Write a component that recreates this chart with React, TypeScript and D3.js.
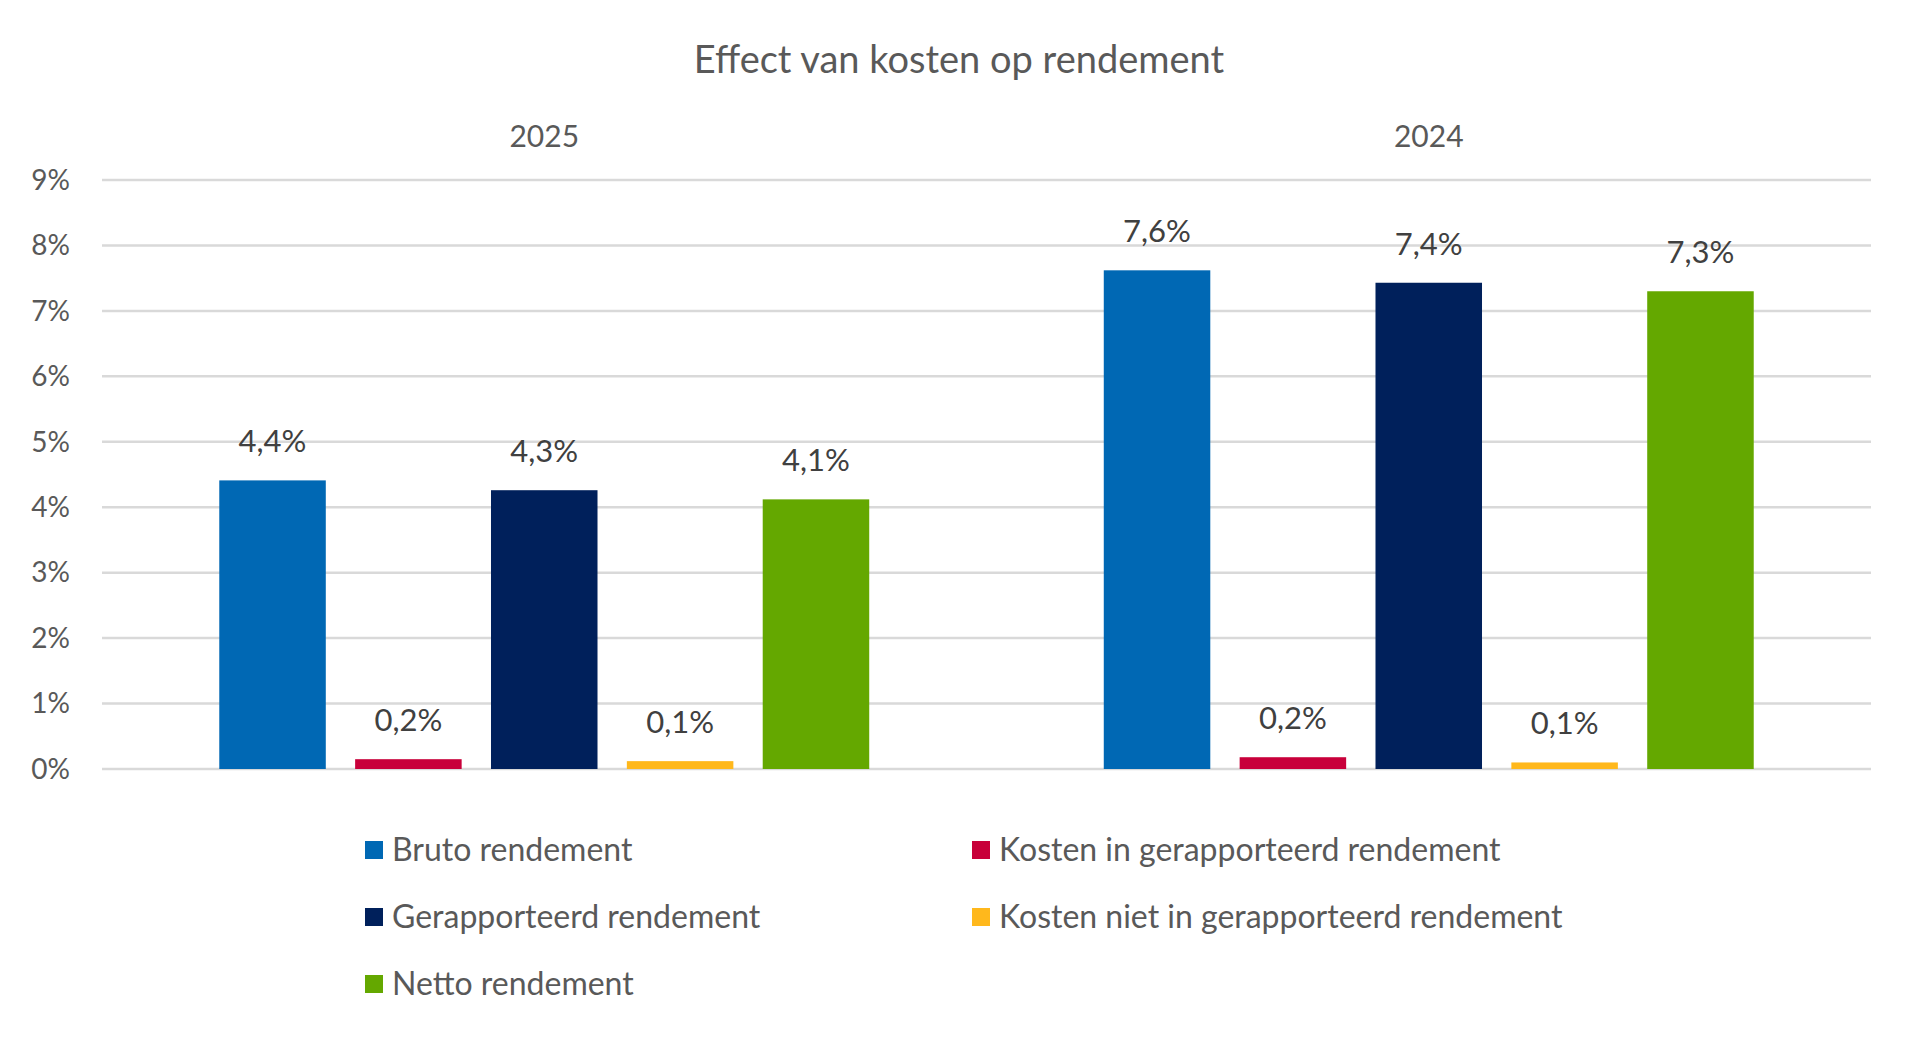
import React, { useEffect, useRef } from "react";
import * as d3 from "d3";

const categories = ["2025", "2024"];
const seriesNames = [
  "Bruto rendement",
  "Kosten in gerapporteerd rendement",
  "Gerapporteerd rendement",
  "Kosten niet in gerapporteerd rendement",
  "Netto rendement",
];
const seriesColors = ["#0068B4", "#C8003A", "#00205B", "#FFB81C", "#64A800"];
// values in %, one array per series, in category order
const bruto = [4.41, 7.62];
const kostenIn = [0.15, 0.18];
const gerapporteerd = [4.26, 7.43];
const kostenNiet = [0.12, 0.1];
const netto = [4.12, 7.3];
const yTicks = [0, 1, 2, 3, 4, 5, 6, 7, 8, 9];

const FONT = "Lato, 'Open Sans', sans-serif";

export default function App() {
  const ref = useRef<SVGSVGElement>(null);

  useEffect(() => {
    const width = 1920;
    const height = 1039;
    const marginLeft = 102;
    const marginRight = 49;
    const marginTop = 180;
    const plotBottom = 769;

    const values = [bruto, kostenIn, gerapporteerd, kostenNiet, netto];

    const svg = d3.select(ref.current);
    svg.selectAll("*").remove();
    svg
      .attr("width", width)
      .attr("height", height)
      .attr("viewBox", [0, 0, width, height]);

    svg.append("rect").attr("width", width).attr("height", height).attr("fill", "#fff");

    const x0 = d3
      .scaleBand<string>()
      .domain(categories)
      .range([marginLeft, width - marginRight])
      .paddingInner(0.232)
      .paddingOuter(0.116);

    const x1 = d3
      .scaleBand<string>()
      .domain(seriesNames)
      .range([0, x0.bandwidth()])
      .paddingInner(0.216)
      .paddingOuter(0.108);

    const y = d3.scaleLinear().domain([0, 9]).range([plotBottom, marginTop]);

    // title
    svg
      .append("text")
      .attr("x", 959)
      .attr("y", 73)
      .attr("text-anchor", "middle")
      .attr("font-family", FONT)
      .attr("font-size", 38)
      .attr("fill", "#595959")
      .text("Effect van kosten op rendement");

    // gridlines + y labels
    const yAxis = svg.append("g");
    yAxis
      .selectAll("line")
      .data(yTicks)
      .join("line")
      .attr("x1", marginLeft)
      .attr("x2", width - marginRight)
      .attr("y1", (d) => y(d))
      .attr("y2", (d) => y(d))
      .attr("stroke", "#D9D9D9")
      .attr("stroke-width", 2.5);
    yAxis
      .selectAll("text")
      .data(yTicks)
      .join("text")
      .attr("x", 70)
      .attr("y", (d) => y(d))
      .attr("dy", "0.35em")
      .attr("text-anchor", "end")
      .attr("font-family", FONT)
      .attr("font-size", 28)
      .attr("fill", "#595959")
      .text((d) => `${d}%`);

    // category labels on top
    svg
      .append("g")
      .selectAll("text")
      .data(categories)
      .join("text")
      .attr("x", (d) => x0(d)! + x0.bandwidth() / 2)
      .attr("y", 147)
      .attr("text-anchor", "middle")
      .attr("font-family", FONT)
      .attr("font-size", 30)
      .attr("fill", "#595959")
      .text((d) => d);

    const fmt = (v: number) => (Math.round(v * 10) / 10).toFixed(1).replace(".", ",") + "%";

    // bars
    const groups = svg
      .append("g")
      .selectAll("g")
      .data(categories)
      .join("g")
      .attr("transform", (d) => `translate(${x0(d)},0)`);

    groups
      .selectAll("rect")
      .data((c, ci) => seriesNames.map((s, si) => ({ s, si, v: values[si][ci] })))
      .join("rect")
      .attr("x", (d) => x1(d.s)!)
      .attr("width", x1.bandwidth())
      .attr("y", (d) => y(d.v))
      .attr("height", (d) => y(0) - y(d.v))
      .attr("fill", (d) => seriesColors[d.si]);

    groups
      .selectAll("text")
      .data((c, ci) => seriesNames.map((s, si) => ({ s, si, v: values[si][ci] })))
      .join("text")
      .attr("x", (d) => x1(d.s)! + x1.bandwidth() / 2)
      .attr("y", (d) => y(d.v) - 28)
      .attr("text-anchor", "middle")
      .attr("font-family", FONT)
      .attr("font-size", 31)
      .attr("fill", "#404040")
      .text((d) => fmt(d.v));

    // legend, two columns
    const legendCols = [365, 972];
    const legendRows = [850, 917, 984];
    const legend = svg
      .append("g")
      .selectAll("g")
      .data(seriesNames)
      .join("g")
      .attr(
        "transform",
        (d, i) => `translate(${legendCols[i % 2]},${legendRows[Math.floor(i / 2)]})`
      );
    legend
      .append("rect")
      .attr("x", 0)
      .attr("y", -9)
      .attr("width", 18)
      .attr("height", 18)
      .attr("fill", (d, i) => seriesColors[i]);
    legend
      .append("text")
      .attr("x", 27)
      .attr("y", 0)
      .attr("dy", "0.35em")
      .attr("font-family", FONT)
      .attr("font-size", 32)
      .attr("fill", "#595959")
      .text((d) => d);
  }, []);

  return (
    <svg
      ref={ref}
      style={{ position: "absolute", left: 0, top: 0, display: "block" }}
    />
  );
}
